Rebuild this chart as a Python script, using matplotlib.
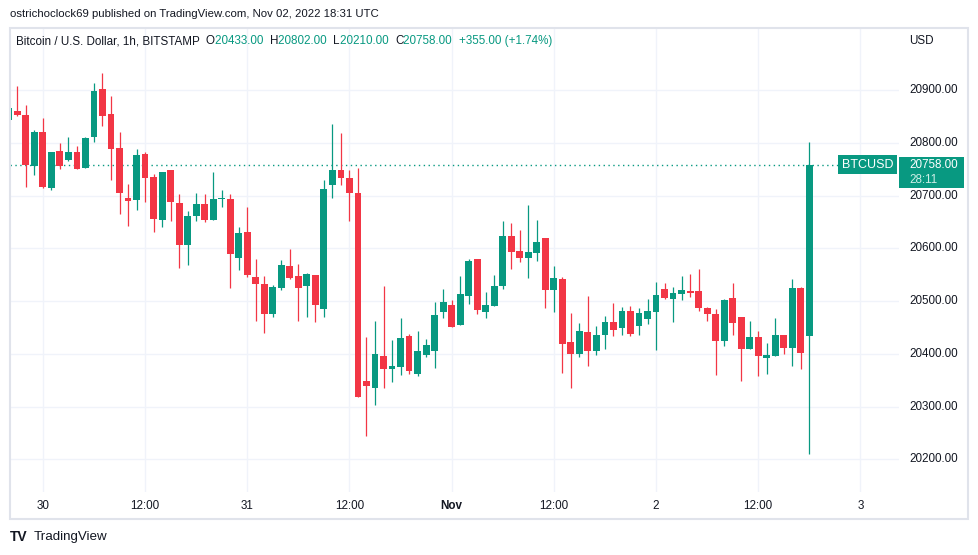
import matplotlib
matplotlib.use("Agg")
import matplotlib.pyplot as plt
from matplotlib.patches import Rectangle
import numpy as np

plt.rcParams['font.family'] = ['Liberation Sans', 'DejaVu Sans']

# hourly BTC/USD candles, Oct 29 20:00 -> Nov 02 18:00 (UTC)
opens = [20844, 20861, 20853, 20755, 20821, 20715, 20785, 20768, 20783, 20753,
         20810, 20901, 20855, 20790, 20695, 20692, 20779, 20735, 20653, 20749,
         20685, 20607, 20662, 20683, 20654, 20693, 20694, 20581, 20631, 20546,
         20532, 20476, 20524, 20567, 20548, 20529, 20550, 20485, 20719, 20749,
         20734, 20704, 20348, 20335, 20396, 20371, 20375, 20434, 20361, 20398,
         20405, 20479, 20493, 20455, 20510, 20580, 20479, 20491, 20529, 20623,
         20595, 20582, 20591, 20619, 20521, 20542, 20423, 20400, 20442, 20406,
         20436, 20461, 20448, 20482, 20452, 20465, 20480, 20523, 20504, 20514,
         20519, 20519, 20487, 20476, 20425, 20506, 20469, 20409, 20432, 20392,
         20396, 20436, 20411, 20525, 20433]
highs = [20866, 20908, 20871, 20825, 20846, 20783, 20800, 20810, 20794, 20811,
         20913, 20932, 20889, 20821, 20722, 20789, 20783, 20741, 20745, 20749,
         20702, 20671, 20704, 20702, 20745, 20711, 20702, 20641, 20679, 20579,
         20548, 20530, 20577, 20598, 20571, 20554, 20550, 20730, 20835, 20818,
         20749, 20753, 20432, 20463, 20528, 20427, 20468, 20438, 20444, 20428,
         20498, 20523, 20502, 20548, 20580, 20580, 20517, 20549, 20651, 20648,
         20634, 20682, 20653, 20619, 20566, 20546, 20478, 20459, 20510, 20453,
         20472, 20497, 20489, 20491, 20486, 20503, 20536, 20535, 20527, 20548,
         20552, 20561, 20489, 20484, 20503, 20535, 20469, 20463, 20444, 20421,
         20468, 20436, 20541, 20527, 20802]
lows = [20844, 20850, 20717, 20738, 20715, 20711, 20751, 20766, 20751, 20753,
        20801, 20831, 20729, 20664, 20642, 20672, 20688, 20631, 20640, 20651,
        20562, 20569, 20651, 20649, 20654, 20678, 20525, 20558, 20546, 20462,
        20440, 20470, 20520, 20542, 20462, 20470, 20461, 20470, 20695, 20719,
        20652, 20318, 20244, 20303, 20335, 20347, 20360, 20361, 20358, 20394,
        20373, 20468, 20450, 20455, 20495, 20476, 20468, 20491, 20523, 20561,
        20574, 20544, 20576, 20487, 20479, 20364, 20336, 20393, 20377, 20398,
        20409, 20433, 20435, 20433, 20435, 20457, 20408, 20503, 20461, 20501,
        20508, 20482, 20463, 20359, 20414, 20436, 20348, 20409, 20358, 20362,
        20396, 20400, 20377, 20372, 20210]
closes = [20866, 20853, 20758, 20821, 20717, 20783, 20755, 20783, 20751, 20809,
          20899, 20850, 20789, 20705, 20690, 20777, 20734, 20655, 20745, 20687,
          20607, 20662, 20683, 20654, 20694, 20695, 20589, 20629, 20550, 20533,
          20476, 20527, 20569, 20544, 20524, 20551, 20493, 20713, 20749, 20734,
          20704, 20318, 20339, 20399, 20371, 20377, 20430, 20367, 20405, 20417,
          20474, 20498, 20450, 20513, 20576, 20483, 20493, 20529, 20623, 20593,
          20582, 20593, 20612, 20521, 20544, 20419, 20400, 20444, 20406, 20436,
          20461, 20445, 20482, 20438, 20478, 20482, 20512, 20506, 20516, 20521,
          20516, 20486, 20476, 20425, 20501, 20459, 20410, 20432, 20396, 20398,
          20436, 20411, 20525, 20402, 20758]

xtick_idx = [4, 16, 28, 40, 52, 64, 76, 88, 100]
xtick_labels = ['30', '12:00', '31', '12:00', 'Nov', '12:00', '2', '12:00', '3']
price_ticks = [20200, 20300, 20400, 20500, 20600, 20700, 20800, 20900]

symbol = 'BTCUSD'
countdown = '28:11'
change_txt = '+355.00 (+1.74%)'

UP = '#089981'
DOWN = '#f23645'
TXT = '#131722'
GRID = '#f0f3fa'
FRAME = '#e0e3eb'
FS = 8.4

W, H = 979, 555
fig = plt.figure(figsize=(W / 100, H / 100), dpi=100)
fig.patch.set_facecolor('white')

def fx(px):
    return px / W

def fy(py):
    return 1 - py / H

# plot area in pixels
L, R, T, B = 10, 899, 28, 492
ax = fig.add_axes([fx(L), fy(B), fx(R) - fx(L), fy(T) - fy(B)])
ax.set_xlim(0.14, 104.53)
ax.set_ylim(20138, 21017.5)
for s in ax.spines.values():
    s.set_visible(False)
ax.set_xticks([])
ax.set_yticks([])

for p in price_ticks:
    ax.axhline(p, color=GRID, lw=1, zorder=0)
for i in xtick_idx:
    ax.axvline(i, color=GRID, lw=1, zorder=0)

o = np.array(opens, float)
h = np.array(highs, float)
l = np.array(lows, float)
c = np.array(closes, float)
x = np.arange(len(o))
col = np.where(c >= o, UP, DOWN)

ax.vlines(x, l, h, colors=col, lw=0.9, zorder=2)
body_lo = np.minimum(o, c)
body_h = np.maximum(np.abs(c - o), 1.2)
ax.bar(x, body_h, bottom=body_lo, width=0.8, color=col, linewidth=0, zorder=3)

last = c[-1]
ax.axhline(last, color=UP, lw=1, ls=(0, (1, 2.5)), zorder=1)

# symbol tag on the right edge of the plot
ax.annotate(symbol, xy=(1.0, last), xycoords=('axes fraction', 'data'),
            xytext=(-4, 0), textcoords='offset points', ha='right', va='center',
            fontsize=FS + 0.6, color='white',
            bbox=dict(boxstyle='square,pad=0.28', fc=UP, ec='none'), zorder=5)

# price axis labels
for p in price_ticks:
    ax.annotate(f'{p:.2f}', xy=(1.0, p), xycoords=('axes fraction', 'data'),
                xytext=(7.5, 0), textcoords='offset points', ha='left', va='center',
                fontsize=FS, color=TXT)

# last price box in the axis
y_last = ax.transData.transform((0, last))[1]
fig.patches.append(Rectangle((fx(899), (y_last - 23) / H), fx(65), 31 / H,
                             transform=fig.transFigure, fc=UP, ec='none'))
fig.text(fx(909), y_last / H, f'{last:.2f}', fontsize=FS, color='white',
         va='center', ha='left')
fig.text(fx(909), (y_last - 15) / H, countdown, fontsize=FS, color='#cdeee6',
         va='center', ha='left')

fig.text(fx(909), fy(41), 'USD', fontsize=FS, color=TXT, va='center', ha='left')

# time axis labels
for i, lab in zip(xtick_idx, xtick_labels):
    ax.annotate(lab, xy=(i, 0), xycoords=('data', 'axes fraction'),
                xytext=(0, -10.3), textcoords='offset points', ha='center', va='center',
                fontsize=FS, color=TXT, fontweight='bold' if lab == 'Nov' else 'normal')

# frame around the chart
fig.patches.append(Rectangle((fx(10), fy(519)), fx(958), (519 - 28) / H,
                             transform=fig.transFigure, fill=False, ec=FRAME, lw=1.5))

# header texts
fig.text(fx(10), fy(14), 'ostrichoclock69 published on TradingView.com, Nov 02, 2022 18:31 UTC',
         fontsize=8.2, color=TXT, va='center', ha='left')

fig.canvas.draw()
renderer = fig.canvas.get_renderer()

def run_text(px, py, parts, size=FS):
    xpos = px
    for s, color in parts:
        t = fig.text(fx(xpos), fy(py), s, fontsize=size, color=color, va='center', ha='left')
        bb = t.get_window_extent(renderer)
        xpos += bb.width

run_text(16, 41, [
    ('Bitcoin / U.S. Dollar, 1h, BITSTAMP  ', TXT),
    ('O', TXT), (f'{o[-1]:.2f}  ', UP),
    ('H', TXT), (f'{h[-1]:.2f}  ', UP),
    ('L', TXT), (f'{l[-1]:.2f}  ', UP),
    ('C', TXT), (f'{c[-1]:.2f}  ', UP),
    (change_txt, UP),
])

# footer logo
fig.text(fx(10), fy(537), 'TV', fontsize=10, fontweight='heavy', color=TXT, va='center', ha='left')
fig.text(fx(34), fy(537), 'TradingView', fontsize=9.6, color=TXT, va='center', ha='left')

fig.savefig('out.png', dpi=100)
